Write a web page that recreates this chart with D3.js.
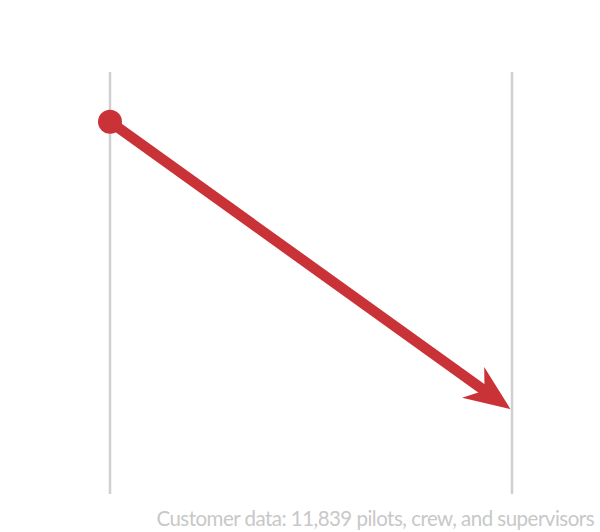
<!DOCTYPE html>
<html>
<head>
<meta charset="utf-8">
<script src="https://cdn.jsdelivr.net/npm/d3@7"></script>
<style>
  body { margin: 0; background: #fff; }
  svg { display: block; }
</style>
</head>
<body>
<div id="chart"></div>
<script>
// two time points, one value each
var periods = ['before', 'after'];
var values = [88.2, 20.1];
var caption = 'Customer data: 11,839 pilots, crew, and supervisors';

var width = 600, height = 532;
var red = '#c93237';

var svg = d3.select('#chart')
  .append('svg')
  .attr('width', width)
  .attr('height', height);

var x = d3.scalePoint()
  .domain(periods)
  .range([110, 512]);

var y = d3.scaleLinear()
  .domain([0, 100])
  .range([494, 72]);

// vertical guide per period
svg.selectAll('.guide')
  .data(periods)
  .enter()
  .append('line')
  .attr('class', 'guide')
  .attr('x1', function(d) { return x(d); })
  .attr('x2', function(d) { return x(d); })
  .attr('y1', y(100))
  .attr('y2', y(0))
  .style('stroke', '#d0d0d0')
  .style('stroke-width', 2.5);

var x0 = x(periods[0]), y0 = y(values[0]);
var x1 = x(periods[1]) - 1.5, y1 = y(values[1]);
var angle = Math.atan2(y1 - y0, x1 - x0);
var len = Math.sqrt((x1 - x0) * (x1 - x0) + (y1 - y0) * (y1 - y0));
var headLen = 46, headHalf = 19, notch = 32;

var g = svg.append('g')
  .attr('transform', 'translate(' + x0 + ',' + y0 + ') rotate(' + (angle * 180 / Math.PI) + ')');

g.append('line')
  .attr('x1', 0)
  .attr('y1', 0)
  .attr('x2', len - notch + 2)
  .attr('y2', 0)
  .style('stroke', red)
  .style('stroke-width', 10.5);

g.append('path')
  .attr('d', 'M' + len + ',0 L' + (len - headLen) + ',' + (-headHalf) +
    ' L' + (len - notch) + ',0 L' + (len - headLen) + ',' + headHalf + ' Z')
  .style('fill', red);

svg.append('circle')
  .attr('cx', x0)
  .attr('cy', y0)
  .attr('r', 12)
  .style('fill', red);

svg.append('text')
  .attr('x', 594)
  .attr('y', 526)
  .attr('text-anchor', 'end')
  .style('font-family', 'Lato, sans-serif')
  .style('font-size', '20.5px')
  .style('letter-spacing', '-0.52px')
  .style('fill', '#c8c8c8')
  .text(caption);
</script>
</body>
</html>
